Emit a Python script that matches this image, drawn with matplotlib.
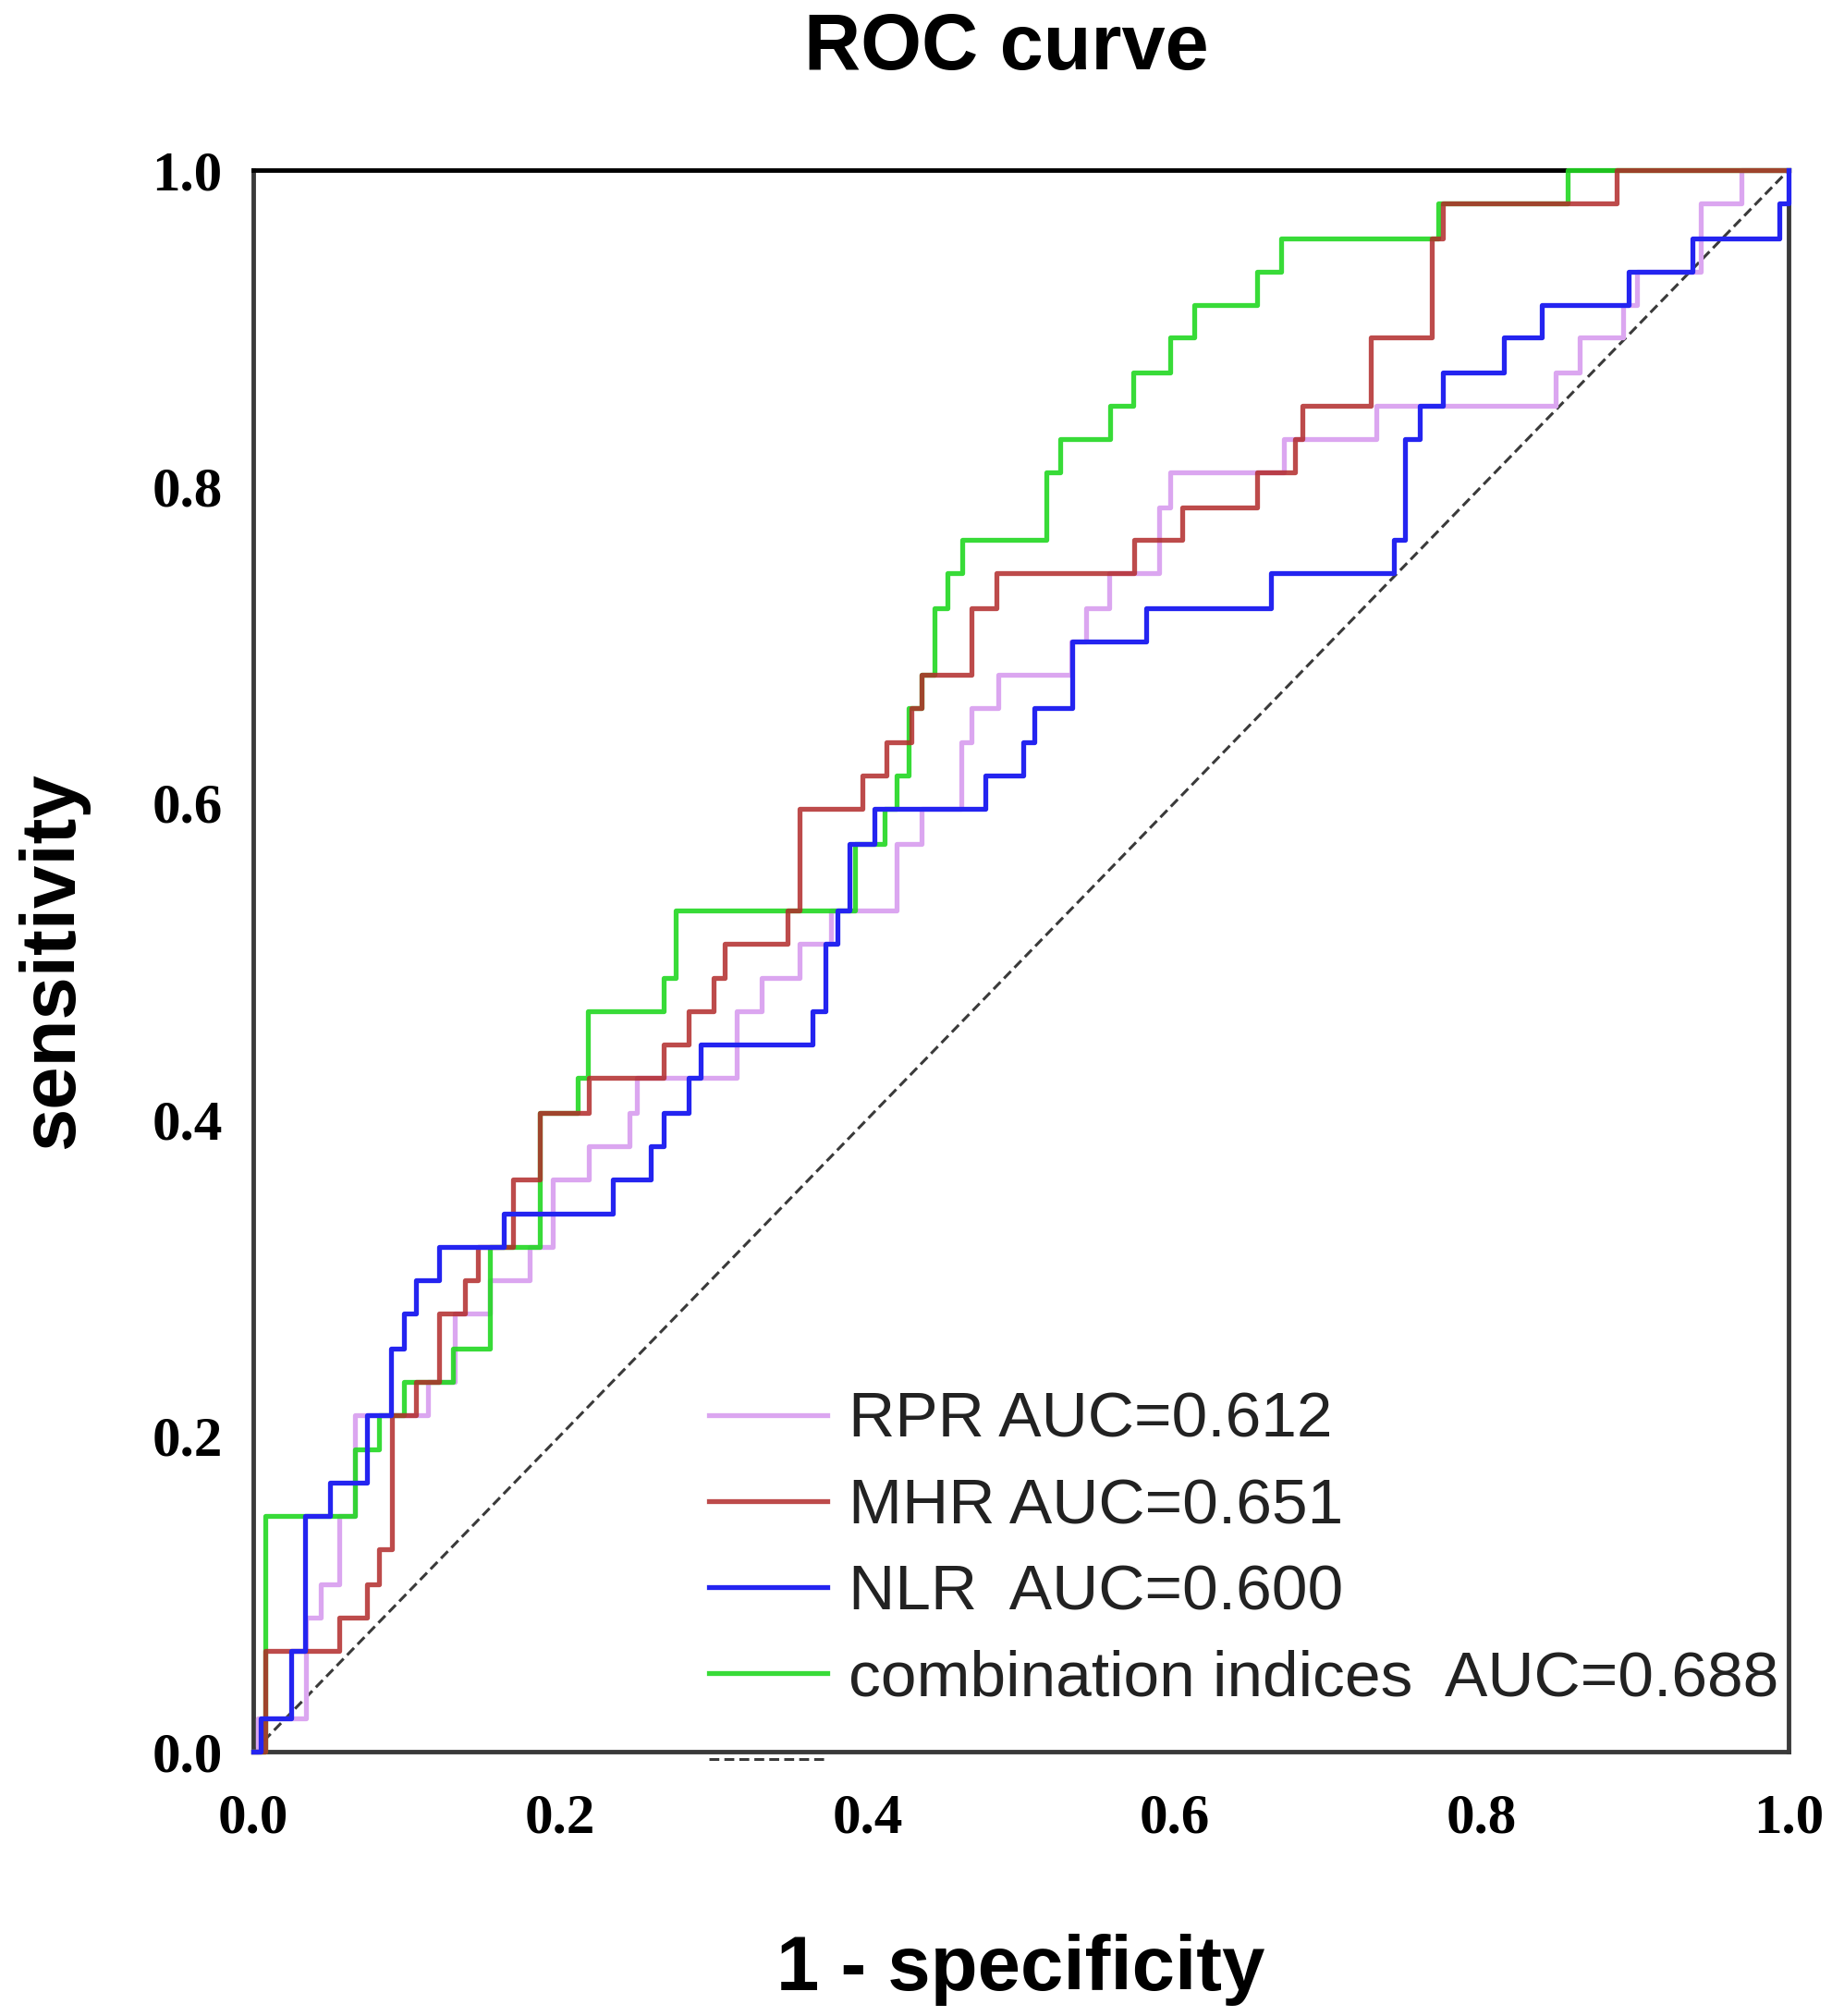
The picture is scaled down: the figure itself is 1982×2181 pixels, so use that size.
import matplotlib
matplotlib.use('Agg')
import matplotlib.pyplot as plt

# ROC step points (1 - specificity, sensitivity)
rpr_fpr = [0, 0.003, 0.034, 0.044, 0.056, 0.066, 0.114, 0.131, 0.154, 0.180, 0.195, 0.2185, 0.245,
           0.250, 0.315, 0.331, 0.3555, 0.376, 0.419, 0.4355, 0.461, 0.4677, 0.4852, 0.5325, 0.5422,
           0.5572, 0.590, 0.5975, 0.6715, 0.7317, 0.8485, 0.8642, 0.8922, 0.9014, 0.9428, 0.9694, 1.0]
rpr_tpr = [0, 0.021, 0.085, 0.106, 0.149, 0.213, 0.234, 0.277, 0.298, 0.319, 0.362, 0.383, 0.404,
           0.426, 0.468, 0.489, 0.511, 0.532, 0.574, 0.596, 0.638, 0.660, 0.681, 0.702, 0.723,
           0.745, 0.787, 0.809, 0.830, 0.851, 0.872, 0.894, 0.915, 0.936, 0.979, 1.0, 1.0]

mhr_fpr = [0, 0.008, 0.056, 0.074, 0.082, 0.090, 0.106, 0.121, 0.138, 0.146, 0.169, 0.1865, 0.2185,
           0.2675, 0.2835, 0.2997, 0.307, 0.348, 0.356, 0.3965, 0.4123, 0.4287, 0.4355, 0.4677, 0.4841,
           0.5739, 0.6051, 0.6541, 0.6787, 0.6835, 0.7277, 0.7674, 0.7749, 0.8878, 1.0]
mhr_tpr = [0, 0.064, 0.085, 0.106, 0.128, 0.213, 0.234, 0.277, 0.298, 0.319, 0.362, 0.404, 0.426,
           0.447, 0.468, 0.489, 0.511, 0.532, 0.596, 0.617, 0.638, 0.660, 0.681, 0.723, 0.745,
           0.766, 0.787, 0.809, 0.830, 0.851, 0.894, 0.957, 0.979, 1.0, 1.0]

nlr_fpr = [0, 0.005, 0.0245, 0.0337, 0.0498, 0.0738, 0.0899, 0.098, 0.106, 0.121, 0.163, 0.234, 0.259,
           0.2675, 0.2835, 0.2915, 0.364, 0.3727, 0.3803, 0.3885, 0.4045, 0.4771, 0.5015, 0.509, 0.5332,
           0.5815, 0.663, 0.7428, 0.7504, 0.7598, 0.7749, 0.8146, 0.8391, 0.8957, 0.9372, 0.994, 1.0]
nlr_tpr = [0, 0.021, 0.064, 0.149, 0.170, 0.213, 0.255, 0.277, 0.298, 0.319, 0.340, 0.362, 0.383,
           0.404, 0.426, 0.447, 0.468, 0.511, 0.532, 0.574, 0.596, 0.617, 0.638, 0.660, 0.702,
           0.723, 0.745, 0.766, 0.830, 0.851, 0.872, 0.894, 0.915, 0.936, 0.957, 0.979, 1.0]

comb_fpr = [0, 0.008, 0.066, 0.082, 0.098, 0.130, 0.154, 0.1865, 0.211, 0.218, 0.267, 0.275, 0.392,
            0.411, 0.419, 0.427, 0.4355, 0.4435, 0.4522, 0.4616, 0.5164, 0.5258, 0.5579, 0.573, 0.5975,
            0.6126, 0.6541, 0.6692, 0.772, 0.856, 1.0]
comb_tpr = [0, 0.149, 0.191, 0.213, 0.234, 0.255, 0.319, 0.404, 0.426, 0.468, 0.489, 0.532, 0.574,
            0.596, 0.617, 0.660, 0.681, 0.723, 0.745, 0.766, 0.809, 0.830, 0.851, 0.872, 0.894,
            0.915, 0.936, 0.957, 0.979, 1.0, 1.0]

labels = ['RPR AUC=0.612', 'MHR AUC=0.651', 'NLR  AUC=0.600', 'combination indices  AUC=0.688']
ticks = [0.0, 0.2, 0.4, 0.6, 0.8, 1.0]
tick_labels = ['0.0', '0.2', '0.4', '0.6', '0.8', '1.0']

fig = plt.figure(figsize=(19.83, 21.81), dpi=100)
ax = fig.add_axes([0.1382, 0.1311, 0.8376, 0.7845])

lw = 3.8
l_rpr, = ax.plot(rpr_fpr, rpr_tpr, drawstyle='steps-post', color='#dba6f0', lw=lw, zorder=3, clip_on=False)
l_comb, = ax.plot(comb_fpr, comb_tpr, drawstyle='steps-post', color='#22d822', lw=lw, alpha=0.9, zorder=3.1, clip_on=False)
l_mhr, = ax.plot(mhr_fpr, mhr_tpr, drawstyle='steps-post', color='#b22b2b', lw=lw, alpha=0.85, zorder=3.2, clip_on=False)
l_nlr, = ax.plot(nlr_fpr, nlr_tpr, drawstyle='steps-post', color='#2424f0', lw=lw, zorder=3.3, clip_on=False)
l_ref, = ax.plot([0, 1], [0, 1], color='#3a3a3a', lw=2.2, linestyle=(0, (3.5, 1.8)), zorder=2.8)

ax.set_xlim(0, 1)
ax.set_ylim(0, 1)
ax.set_xticks(ticks)
ax.set_xticklabels(tick_labels)
ax.set_yticks(ticks)
ax.set_yticklabels(tick_labels)
ax.tick_params(axis='both', length=0, labelsize=44)
ax.tick_params(axis='x', pad=32)
ax.tick_params(axis='y', pad=24)
for lab in ax.get_xticklabels() + ax.get_yticklabels():
    lab.set_fontfamily('Liberation Serif')
    lab.set_fontweight('bold')

for side in ['left', 'right', 'bottom']:
    ax.spines[side].set_color('#3a3a3a')
    ax.spines[side].set_linewidth(3.5)
ax.spines['top'].set_color('black')
ax.spines['top'].set_linewidth(3.5)

leg = ax.legend([l_rpr, l_mhr, l_nlr, l_comb, l_ref], labels + [' '],
                loc='upper left', bbox_to_anchor=(0.297, 0.228), frameon=False,
                borderpad=0, borderaxespad=0, handlelength=1.84, handletextpad=0.33,
                labelspacing=0.42,
                prop={'family': 'Liberation Sans', 'size': 50})
for t in leg.get_texts():
    t.set_color('#222222')

ax.set_xlabel('1 - specificity', fontsize=60, fontweight='bold', family='Liberation Sans', va='center')
ax.xaxis.set_label_coords(0.5, -0.138)
ax.set_ylabel('sensitivity', fontsize=60, fontweight='bold', family='Liberation Sans', va='center')
ax.yaxis.set_label_coords(-0.1306, 0.5)

fig.text(0.549, 0.9658, 'ROC curve', fontsize=61, fontweight='bold', family='Liberation Sans',
         ha='center', va='baseline')

fig.savefig('out.png', dpi=100)
